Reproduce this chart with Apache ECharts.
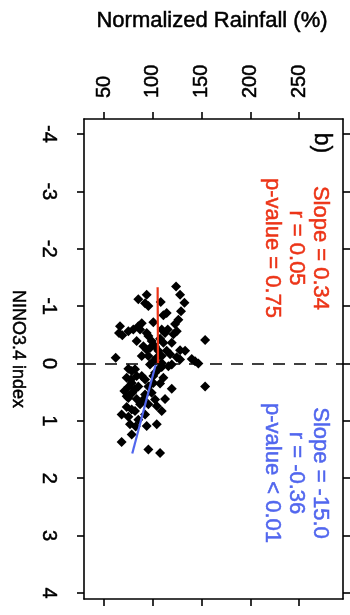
<!DOCTYPE html>
<html><head><meta charset="utf-8">
<script src="https://cdn.jsdelivr.net/npm/echarts@6/dist/echarts.min.js"></script>
<style>html,body{margin:0;padding:0;background:#fff;}#c{width:350px;height:615px;}</style>
</head><body><div id="c"></div>
<script>
const rainTicks = [50, 100, 150, 200, 250];
const ninoTicks = [-4, -3, -2, -1, 0, 1, 2, 3, 4];
const ninoVals = [-1.34,-1.20,-1.20,-1.12,-1.05,-1.00,-1.07,-1.06,-0.91,-0.88,
  -0.84,-0.76,-0.72,-0.70,-0.69,-0.65,-0.65,-0.59,-0.56,-0.53,
  -0.49,-0.53,-0.59,-0.53,-0.59,-0.56,-0.51,-0.41,-0.39,-0.48,
  -0.43,-0.36,-0.36,-0.30,-0.24,-0.27,-0.22,-0.16,-0.23,-0.22,
  -0.30,-0.13,-0.13,-0.10,-0.13,-0.11,-0.07,-0.04,0.02,-0.08,
  -0.04,0.00,-0.01,0.02,0.09,0.13,0.10,0.06,0.16,0.25,
  0.28,0.22,0.22,0.25,0.22,0.35,0.40,0.41,0.48,0.51,
  0.51,0.44,0.40,0.54,0.45,0.60,0.62,0.63,0.62,0.71,
  0.71,0.74,0.76,0.80,0.83,0.83,0.89,0.93,0.98,0.89,
  1.06,1.10,1.09,1.06,1.24,1.37,1.50,1.56,-0.59,-0.39,
  -0.22,-0.10,0.28,0.40,0.34,0.57,0.63,0.34,0.10,0.05];
const rainVals = [123.9,128.0,93.8,85.2,92.1,95.5,108.2,132.5,129.0,114.3,
  110.9,126.3,100.6,88.7,122.9,66.4,85.2,80.1,75.0,65.4,
  68.8,93.8,109.2,112.6,115.4,124.6,121.2,153.7,83.5,95.5,
  107.5,110.9,119.5,90.4,93.8,97.2,114.3,117.8,128.0,133.2,
  102.4,88.7,95.5,62.0,109.2,124.6,128.0,100.6,97.2,140.0,
  143.4,146.8,109.2,119.5,75.0,78.4,105.8,109.2,102.4,73.3,
  77.7,83.5,88.7,110.9,100.6,107.5,85.2,75.0,70.9,79.1,
  98.9,119.5,153.7,92.1,81.8,75.0,83.5,102.4,112.6,87.0,
  95.5,104.1,73.3,78.4,81.8,109.2,68.1,75.0,85.2,92.1,
  76.7,82.5,93.8,104.1,78.4,68.1,95.5,107.5,87.0,98.9,
  105.8,104.1,92.1,95.5,78.4,73.3,90.4,100.6,81.8,116.0];
const redFitNino = [-1.33, 0];
const redFitRain = [105.0, 105.4];
const blueFitNino = [0, 1.57];
const blueFitRain = [103.3, 79.0];
const redStats = ['Slope = 0.34', 'r = 0.05', 'p-value = 0.75'];
const blueStats = ['Slope = -15.0', 'r = -0.36', 'p-value < 0.01'];
const xTitle = 'Normalized Rainfall (%)';
const yTitle = 'NINO3.4 index';
const panelLabel = 'b)';

const FONT = '"Liberation Sans", Arial, Helvetica, sans-serif';
const RED = '#ec3417';
const BLUE = '#5166ee';
const chart = echarts.init(document.getElementById('c'), null, {renderer: 'canvas'});
const axisLineStyle = {color: '#000', width: 1.6};
function xAx(pos, showLabel) {
  return {type: 'value', position: pos, min: 29.5, max: 295.1,
    axisLine: {show: true, onZero: false, lineStyle: axisLineStyle},
    axisTick: {show: true, inside: false, length: 7, customValues: rainTicks, lineStyle: axisLineStyle},
    axisLabel: {show: showLabel, customValues: rainTicks, rotate: -90, margin: 21, fontSize: 20, color: '#000', fontFamily: FONT,
      textBorderColor: '#000', textBorderWidth: 0.5},
    splitLine: {show: false}};
}
function yAx(pos, showLabel) {
  return {type: 'value', position: pos, inverse: true, min: -4.261, max: 4.105,
    axisLine: {show: true, onZero: false, lineStyle: axisLineStyle},
    axisTick: {show: true, inside: false, length: 7, customValues: ninoTicks, lineStyle: axisLineStyle},
    axisLabel: {show: showLabel, customValues: ninoTicks, rotate: -90, margin: 25, fontSize: 20, color: '#000', fontFamily: FONT,
      textBorderColor: '#000', textBorderWidth: 0.5},
    splitLine: {show: false}};
}
const rot = -Math.PI / 2;
function txt(x, y, text, size, color, r) {
  return {type: 'text', x: x, y: y, rotation: r, silent: true,
    style: {text: text, font: size + 'px ' + FONT, fill: color, stroke: color, lineWidth: 0.5,
      align: 'center', verticalAlign: 'middle', textAlign: 'center', textVerticalAlign: 'middle', lineHeight: 24}};
}
chart.setOption({
  animation: false,
  backgroundColor: '#fff',
  grid: {left: 84, top: 119, width: 259, height: 480, containLabel: false},
  xAxis: [xAx('top', true), xAx('bottom', false)],
  yAxis: [yAx('left', true), yAx('right', false)],
  series: [
    {type: 'scatter', xAxisIndex: 0, yAxisIndex: 0, symbol: 'diamond', symbolSize: 10,
      itemStyle: {color: '#000', opacity: 1}, z: 2,
      data: rainVals.map((r, i) => [r, ninoVals[i]]),
      markLine: {silent: true, symbol: ['none', 'none'], label: {show: false},
        lineStyle: {type: [12, 9], color: '#000', width: 1.6, opacity: 1}, data: [{yAxis: 0}]}},
    {type: 'line', xAxisIndex: 0, yAxisIndex: 0, showSymbol: false, z: 3,
      lineStyle: {color: RED, width: 2.2}, data: redFitRain.map((r, i) => [r, redFitNino[i]])},
    {type: 'line', xAxisIndex: 0, yAxisIndex: 0, showSymbol: false, z: 3,
      lineStyle: {color: BLUE, width: 2.2}, data: blueFitRain.map((r, i) => [r, blueFitNino[i]])}
  ],
  graphic: [
    txt(212, 21, xTitle, 22, '#000', 0),
    txt(18, 349, yTitle, 18, '#000', rot),
    txt(321, 143, panelLabel, 23, '#000', rot),
    txt(296, 248, redStats.join('\n'), 22, RED, rot),
    txt(296, 473, blueStats.join('\n'), 22, BLUE, rot)
  ]
});
</script>
</body></html>
